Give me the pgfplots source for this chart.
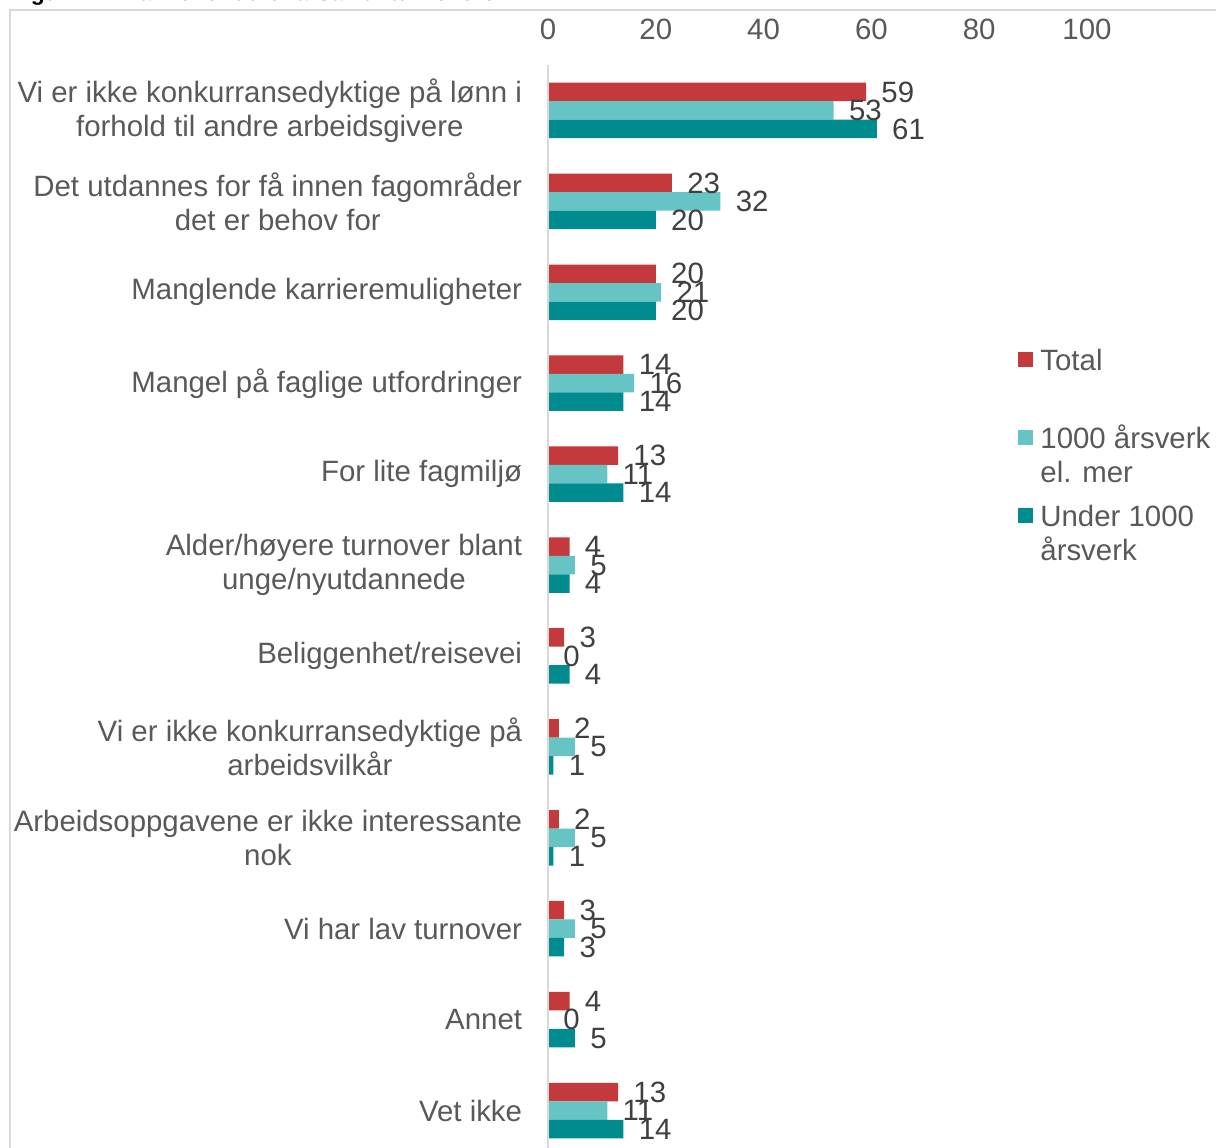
\documentclass[border=0pt]{standalone}
\usepackage{fontspec}
\setmainfont{Liberation Sans}
\usepackage{pgfplots}
\pgfplotsset{compat=1.18}
\definecolor{cred}{RGB}{196,57,59}
\definecolor{clight}{RGB}{102,196,196}
\definecolor{cdark}{RGB}{0,139,142}
\definecolor{tgray}{RGB}{89,89,89}
\definecolor{vgray}{RGB}{64,64,64}
\definecolor{lgray}{RGB}{217,217,217}
\begin{document}
\begin{tikzpicture}
\useasboundingbox (0,0) rectangle (608pt,573.5pt);
\node[anchor=base west, inner sep=0pt, font=\bfseries\fontsize{11.5pt}{13pt}\selectfont] at (5pt,573pt) {Figur 1.: Hva mener du er årsak til turnoveren?};
\draw[lgray, line width=1pt] (5pt,-20pt) |- (650pt,568.5pt);
\begin{axis}[
  at={(274pt,-4.5pt)}, anchor=south west,
  scale only axis, width=269.5pt, height=545.5pt,
  xbar, bar width=0.2035,
  xmin=0, xmax=100, ymin=-0.5, ymax=11.5,
  y dir=reverse,
  axis line style={draw=none},
  tick style={draw=none},
  xtick={0,20,...,100},
  xticklabel pos=upper,
  xticklabel style={inner sep=0pt, anchor=south, yshift=12.5pt, text=tgray},
  ytick={0,...,11},
  yticklabels={
    {Vi er ikke konkurransedyktige på lønn i\\forhold til andre arbeidsgivere},
    {Det utdannes for få innen fagområder\\det er behov for},
    {Manglende karrieremuligheter},
    {Mangel på faglige utfordringer},
    {For lite fagmiljø},
    {Alder/høyere turnover blant\\unge/nyutdannede},
    {Beliggenhet/reisevei},
    {Vi er ikke konkurransedyktige på\\arbeidsvilkår},
    {Arbeidsoppgavene er ikke interessante\\nok},
    {Vi har lav turnover},
    {Annet},
    {Vet ikke}},
  yticklabel style={align=center, inner sep=0pt, xshift=-8.5pt, text=tgray},
  tick label style={font=\fontsize{14.7pt}{17pt}\selectfont},
  /pgf/number format/assume math mode=true,
  nodes near coords,
  every node near coord/.append style={anchor=west, inner sep=0pt, xshift=7.5pt, text=vgray, font=\fontsize{14.7pt}{17pt}\selectfont},
  clip=false,
  legend style={draw=none, fill=none, inner sep=0pt, at={(axis description cs:0.872,0.7457)}, anchor=north west,
    font=\fontsize{14.7pt}{17pt}\selectfont, text=tgray, row sep=4.5pt,
    cells={anchor=west, align=left},
    /tikz/every odd column/.append style={column sep=1.5pt}},
  legend image code/.code={\path[#1, draw=none] (0pt,5pt) rectangle (7.5pt,12.5pt);},
]
\addplot[fill=cred, draw=none, bar shift=-0.2035] coordinates {
(59,0) (23,1) (20,2) (14,3) (13,4) (4,5) (3,6) (2,7) (2,8) (3,9) (4,10) (13,11)};
\addplot[fill=clight, draw=none, bar shift=0] coordinates {
(53,0) (32,1) (21,2) (16,3) (11,4) (5,5) (0,6) (5,7) (5,8) (5,9) (0,10) (11,11)};
\addplot[fill=cdark, draw=none, bar shift=0.2035] coordinates {
(61,0) (20,1) (20,2) (14,3) (14,4) (4,5) (4,6) (1,7) (1,8) (3,9) (5,10) (14,11)};
\legend{{\strut Total\\\strut}, {\strut 1000 årsverk\\\strut el. mer}, {\strut Under 1000\\\strut årsverk}}
\draw[lgray, line width=1pt] (axis cs:0,-0.5) -- (axis cs:0,11.5);
\end{axis}
\end{tikzpicture}
\end{document}
